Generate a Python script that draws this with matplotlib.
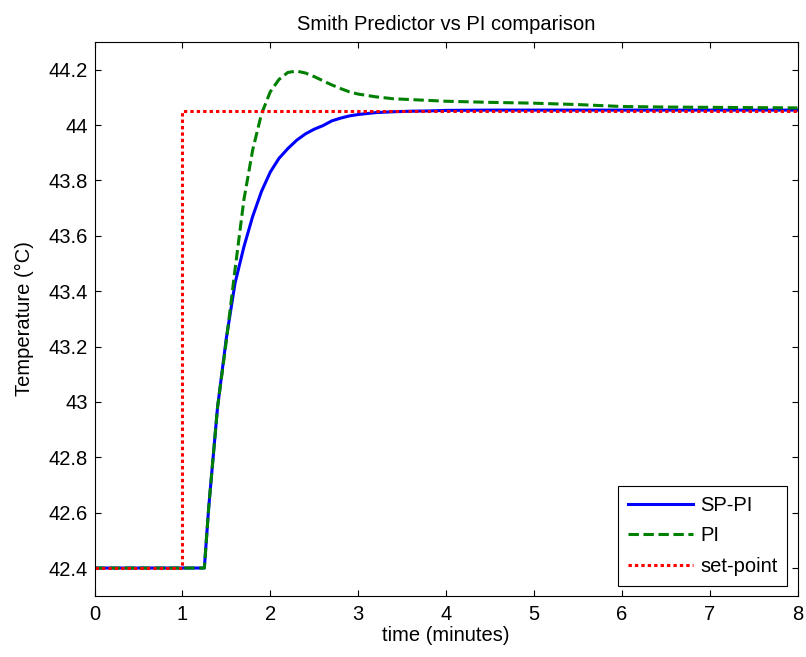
import matplotlib
matplotlib.use("Agg")
import matplotlib.pyplot as plt

plt.rcParams['font.family'] = ['Liberation Sans', 'DejaVu Sans']

# Data
t = [0, 1.25, 1.3, 1.4, 1.5, 1.6, 1.7, 1.8, 1.9, 2.0, 2.1, 2.2, 2.3, 2.4, 2.5,
     2.6, 2.7, 2.8, 2.9, 3.0, 3.2, 3.4, 3.6, 3.8, 4.0, 4.5, 5.0, 5.5, 6.0,
     6.5, 7.0, 7.5, 8.0]
sp_pi = [42.40, 42.40, 42.62, 42.98, 43.23, 43.43, 43.56, 43.67, 43.76, 43.83,
         43.88, 43.915, 43.945, 43.968, 43.985, 43.998, 44.015, 44.025, 44.033,
         44.038, 44.045, 44.048, 44.050, 44.051, 44.053, 44.054, 44.054, 44.054,
         44.054, 44.054, 44.054, 44.054, 44.054]
pi = [42.40, 42.40, 42.62, 42.98, 43.22, 43.48, 43.73, 43.91, 44.04, 44.12,
      44.165, 44.19, 44.195, 44.188, 44.175, 44.16, 44.145, 44.132, 44.12,
      44.112, 44.102, 44.095, 44.092, 44.089, 44.086, 44.082, 44.079, 44.074,
      44.067, 44.065, 44.064, 44.063, 44.062]
sp_t = [0, 1, 8]
sp_v = [42.4, 44.05, 44.05]

xticks = [0, 1, 2, 3, 4, 5, 6, 7, 8]
yticks = [42.4, 42.6, 42.8, 43.0, 43.2, 43.4, 43.6, 43.8, 44.0, 44.2]
ytick_labels = ['42.4', '42.6', '42.8', '43', '43.2', '43.4', '43.6', '43.8', '44', '44.2']

FS = 14.5

fig = plt.figure(figsize=(8.06, 6.57), dpi=100)
ax = fig.add_axes([94.5/806, 1-595.7/657, (797.5-94.5)/806, (595.7-42)/657])

ax.plot(t, sp_pi, color='#0000ff', lw=2.2, label='SP-PI')
ax.plot(t, pi, color='#008000', lw=2.2, ls=(0, (3.4, 1.5)), label='PI')
ax.plot(sp_t, sp_v, color='#ff0000', lw=2.2, ls=(0, (1.1, 1.0)),
        drawstyle='steps-post', label='set-point')

ax.set_xlim(0, 8)
ax.set_ylim(42.3, 44.3)
ax.set_xticks(xticks)
ax.set_yticks(yticks)
ax.set_yticklabels(ytick_labels)
ax.tick_params(direction='in', top=True, right=True, length=4, width=0.8,
               labelsize=FS)
ax.tick_params(axis='x', pad=7)
ax.tick_params(axis='y', pad=5)
for s in ax.spines.values():
    s.set_linewidth(0.8)

ax.set_xlabel('time (minutes)', fontsize=FS, labelpad=1)
ax.set_ylabel('Temperature (\u00b0C)', fontsize=FS, labelpad=10)
ax.set_title('Smith Predictor vs PI comparison', fontsize=FS, pad=9)

leg = ax.legend(loc='lower right', fontsize=FS, handlelength=3.2,
                handletextpad=0.35, fancybox=False, framealpha=1,
                edgecolor='black', borderaxespad=0.5, labelspacing=0.55,
                borderpad=0.5)
leg.get_frame().set_linewidth(0.8)

fig.savefig('out.png', dpi=100)
